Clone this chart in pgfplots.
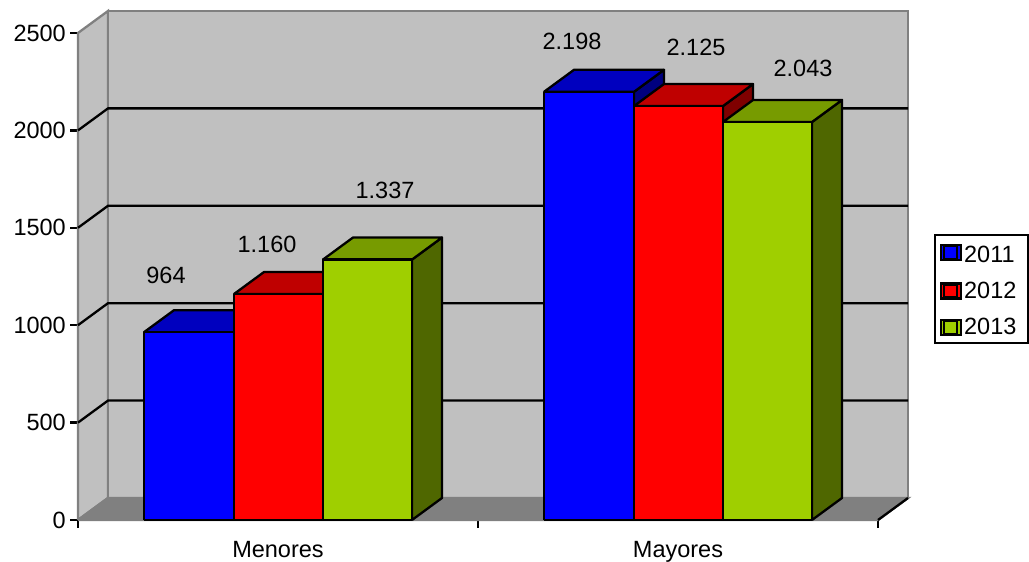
\documentclass[border=0pt]{standalone}
\usepackage{pgfplots}
\usepackage{fontspec}
\setmainfont{Liberation Sans}
\pgfplotsset{compat=1.18}

\definecolor{wallgray}{HTML}{C0C0C0}
\definecolor{floorgray}{HTML}{808080}
\definecolor{blueface}{HTML}{0000FF}
\definecolor{bluetop}{HTML}{0000BF}
\definecolor{blueside}{HTML}{00007F}
\definecolor{redface}{HTML}{FF0000}
\definecolor{redtop}{HTML}{BF0000}
\definecolor{redside}{HTML}{7F0000}
\definecolor{greenface}{HTML}{9FCF00}
\definecolor{greentop}{HTML}{779B00}
\definecolor{greenside}{HTML}{4F6700}

% Depth of the box in axis units
\newcommand{\depthx}{0.075}
\newcommand{\depthy}{113}

% Extruded bar: left x, right x, value, then front, top and side colours
\newcommand{\extrudedbar}[6]{%
  \pgfmathsetmacro{\xbl}{#1+\depthx}%
  \pgfmathsetmacro{\xbr}{#2+\depthx}%
  \pgfmathsetmacro{\ybk}{#3+\depthy}%
  \pgfmathsetmacro{\yfl}{\depthy}%
  \edef\drawbar{%
    \noexpand\addplot[barface,fill=#6] coordinates {(#2,0)(\xbr,\yfl)(\xbr,\ybk)(#2,#3)(#2,0)};
    \noexpand\addplot[barface,fill=#5] coordinates {(#1,#3)(#2,#3)(\xbr,\ybk)(\xbl,\ybk)(#1,#3)};
    \noexpand\addplot[barface,fill=#4] coordinates {(#1,0)(#2,0)(#2,#3)(#1,#3)(#1,0)};
  }\drawbar
}

\pgfplotsset{
  barface/.style={draw=black,line width=2.3bp,line join=round,mark=none,forget plot},
  wall/.style={draw=floorgray,line width=2.3bp,fill=wallgray,mark=none,forget plot},
  gridrule/.style={draw=black,line width=2.3bp,mark=none,forget plot},
  swatch/.style={legend image code/.code={%
    \path (0,-7.5bp) rectangle (20bp,7.5bp);
    \draw[line width=2.1bp,##1] (2.5bp,-6.5bp) rectangle (15.5bp,6.5bp);}},
}

\begin{document}
\begin{tikzpicture}[x=1bp,y=1bp]
\path[use as bounding box] (0,0) rectangle (1029,562);
\begin{axis}[
  at={(78bp,42bp)}, anchor=south west,
  scale only axis, width=800bp, height=487bp,
  xmin=0, xmax=2, ymin=0, ymax=2500,
  clip=false,
  axis lines=left,
  axis line style={-,line width=2.3bp,black},
  every tick/.style={black,line width=2.3bp},
  tick align=outside,
  major tick length=8bp,
  xtick={0,1,2}, xticklabels={},
  extra x ticks={0.5,1.5},
  extra x tick labels={Menores,Mayores},
  extra x tick style={major tick length=0bp},
  ytick={0,500,1000,1500,2000,2500},
  tick label style={font=\fontsize{23.5bp}{27bp}\selectfont},
  y tick label style={inner xsep=0pt,xshift=-4bp},
  x tick label style={yshift=-18bp},
  /pgf/number format/assume math mode=true,
  /pgf/number format/set thousands separator={},
  legend cell align=left,
  legend style={
    at={(axis cs:2.14,1468)}, anchor=north west,
    draw=black, line width=2.1bp,
    font=\fontsize{23.5bp}{27bp}\selectfont,
    inner xsep=5bp, inner ysep=5bp,
    row sep=14.5bp,
    /tikz/every even column/.append style={column sep=0pt},
  },
]
% Side wall, back wall and floor of the box
\addplot[wall] coordinates {(0,0)(0.075,113)(0.075,2613)(0,2500)(0,0)};
\addplot[wall] coordinates {(0.075,113)(2.075,113)(2.075,2613)(0.075,2613)(0.075,113)};
\addplot[wall,fill=floorgray] coordinates {(0,0)(0.075,113)(2.075,113)(2,0)(0,0)};
\addplot[gridrule] coordinates {(2,0)(2.075,113)};
% Grid rules running round the walls
\addplot[gridrule] coordinates {(0,500)(0.075,613)(2.075,613)};
\addplot[gridrule] coordinates {(0,1000)(0.075,1113)(2.075,1113)};
\addplot[gridrule] coordinates {(0,1500)(0.075,1613)(2.075,1613)};
\addplot[gridrule] coordinates {(0,2000)(0.075,2113)(2.075,2113)};

\extrudedbar{0.165}{0.39}{964}{blueface}{bluetop}{blueside}
\extrudedbar{0.39}{0.6125}{1160}{redface}{redtop}{redside}
\extrudedbar{0.6125}{0.835}{1337}{greenface}{greentop}{greenside}
\extrudedbar{1.165}{1.39}{2198}{blueface}{bluetop}{blueside}
\extrudedbar{1.39}{1.6125}{2125}{redface}{redtop}{redside}
\extrudedbar{1.6125}{1.835}{2043}{greenface}{greentop}{greenside}

\addlegendimage{swatch,fill=blueface}
\addlegendentry{\rule{0pt}{20bp}2011\kern5bp}
\addlegendimage{swatch,fill=redface}
\addlegendentry{2012\kern5bp}
\addlegendimage{swatch,fill=greenface}
\addlegendentry{2013\kern5bp}

\begin{scope}[every node/.style={font=\fontsize{23.5bp}{27bp}\selectfont,text=black}]
\node at (axis cs:0.22,1253) {964};
\node at (axis cs:0.4725,1417) {1.160};
\node at (axis cs:0.7675,1694) {1.337};
\node at (axis cs:1.235,2459) {2.198};
\node at (axis cs:1.545,2428) {2.125};
\node at (axis cs:1.8125,2320) {2.043};
\end{scope}
\end{axis}
\end{tikzpicture}
\end{document}
